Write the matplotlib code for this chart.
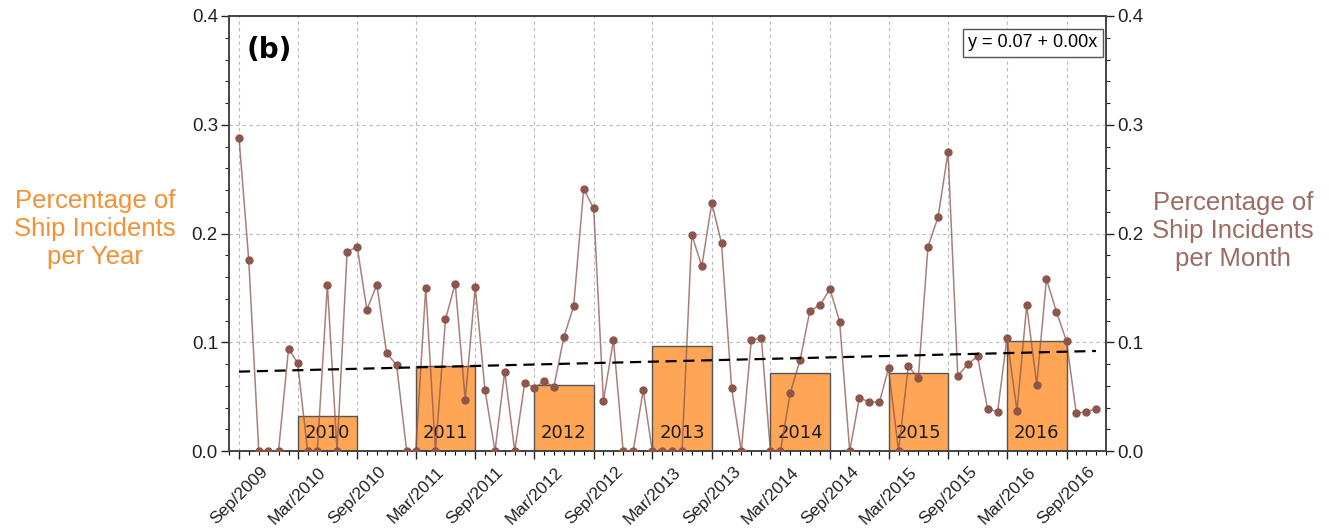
import datetime as dt
import numpy as np
import matplotlib
matplotlib.use("Agg")
import matplotlib.pyplot as plt
import matplotlib.dates as mdates
from matplotlib.ticker import MultipleLocator, FormatStrFormatter

# Monthly share of ship incidents, Sep 2009 .. Dec 2016
monthly_start = (2009, 9)
monthly_pct = [
    0.288, 0.176, 0.0, 0.0, 0.0, 0.094, 0.081, 0.0, 0.0, 0.153, 0.0, 0.183,
    0.188, 0.130, 0.153, 0.090, 0.079, 0.0, 0.0, 0.150, 0.0, 0.121, 0.154, 0.047,
    0.151, 0.056, 0.0, 0.073, 0.0, 0.063, 0.058, 0.064, 0.059, 0.105, 0.133, 0.241,
    0.223, 0.046, 0.102, 0.0, 0.0, 0.056, 0.0, 0.0, 0.0, 0.0, 0.199, 0.170,
    0.228, 0.191, 0.058, 0.0, 0.102, 0.104, 0.0, 0.0, 0.053, 0.084, 0.129, 0.134,
    0.149, 0.119, 0.0, 0.049, 0.045, 0.045, 0.076, 0.0, 0.078, 0.067, 0.188, 0.215,
    0.275, 0.069, 0.080, 0.087, 0.039, 0.036, 0.104, 0.037, 0.134, 0.061, 0.158, 0.128,
    0.101, 0.035, 0.036, 0.039,
]

# Yearly share of ship incidents
years = [2010, 2011, 2012, 2013, 2014, 2015, 2016]
yearly_pct = [0.032, 0.078, 0.061, 0.097, 0.072, 0.072, 0.101]

# Linear trend of the monthly series (endpoints)
trend_pct = [0.073, 0.092]
trend_text = "y = 0.07 + 0.00x"


def add_months(y, m, k):
    t = (y * 12 + (m - 1)) + k
    return dt.date(t // 12, t % 12 + 1, 1)


months = [add_months(*monthly_start, k) for k in range(len(monthly_pct))]
mx = mdates.date2num(months)

plt.rcParams["font.family"] = ["Liberation Sans", "DejaVu Sans"]

fig = plt.figure(figsize=(13.29, 5.28), dpi=100)
ax = fig.add_axes([0.1723, 0.1458, 0.8322 - 0.1723, 0.9697 - 0.1458])

bar_color = "#ffa556"
line_color = "#8c564b"

# yearly bars span March to September of each year
for yr, v in zip(years, yearly_pct):
    x0 = mdates.date2num(dt.date(yr, 3, 1))
    x1 = mdates.date2num(dt.date(yr, 9, 1))
    ax.bar(x0, v, width=x1 - x0, align="edge", color=bar_color,
           edgecolor="#555555", linewidth=1.0, zorder=2)
    ax.text((x0 + x1) / 2, 0.008, str(yr), ha="center", va="bottom",
            fontsize=13, family="DejaVu Sans", color="#1a1a1a", zorder=3)

ax.plot(mx, monthly_pct, color=line_color, alpha=0.75, lw=1.1, zorder=4)
ax.plot(mx, monthly_pct, "o", color=line_color, ms=5, zorder=5)

ax.plot([mx[0], mx[-1]], trend_pct, color="black", lw=1.6,
        ls=(0, (5, 3)), zorder=6)

ax.set_xlim(mdates.date2num(dt.date(2009, 8, 1)), mdates.date2num(dt.date(2017, 1, 1)))
ax.set_ylim(0, 0.4)

ax.xaxis.set_major_locator(mdates.MonthLocator(bymonth=[3, 9]))
ax.xaxis.set_major_formatter(mdates.DateFormatter("%b/%Y"))
ax.xaxis.set_minor_locator(mdates.MonthLocator())
ax.yaxis.set_major_locator(MultipleLocator(0.1))
ax.yaxis.set_minor_locator(MultipleLocator(0.02))
ax.yaxis.set_major_formatter(FormatStrFormatter("%.1f"))

ax.tick_params(axis="y", which="both", right=True, labelright=True,
               direction="out", labelsize=13.5, colors="#222222", pad=2)
ax.tick_params(axis="y", which="major", length=6, width=1.0)
ax.tick_params(axis="y", which="minor", length=3, width=0.8)
ax.tick_params(axis="x", which="major", length=6, width=1.0, labelsize=12.5,
               colors="#222222")
ax.tick_params(axis="x", which="minor", length=3, width=0.8)
for lbl in ax.get_xticklabels():
    lbl.set_rotation(45)
    lbl.set_ha("center")

for s in ax.spines.values():
    s.set_color("#444444")
    s.set_linewidth(1.4)

ax.grid(True, which="major", color="#bbbbbb", lw=0.8, ls=(0, (3, 3)), zorder=0)
ax.set_axisbelow(True)

ax.text(0.02, 0.955, "(b)", transform=ax.transAxes, ha="left", va="top",
        fontsize=20, fontweight="bold", family="DejaVu Sans")
ax.text(0.99, 0.958, trend_text, transform=ax.transAxes, ha="right", va="top",
        fontsize=13, bbox=dict(boxstyle="square,pad=0.3", fc="white",
                               ec="#555555", lw=1.0), zorder=7)

fig.text(95 / 1329, 1 - 229 / 528, "Percentage of\nShip Incidents\nper Year",
         ha="center", va="center", fontsize=18.5, color="#f39033",
         linespacing=1.2)
fig.text(1233 / 1329, 1 - 231 / 528, "Percentage of\nShip Incidents\nper Month",
         ha="center", va="center", fontsize=18.5, color="#9c6b63",
         linespacing=1.2)

fig.savefig("out.png", dpi=100)
